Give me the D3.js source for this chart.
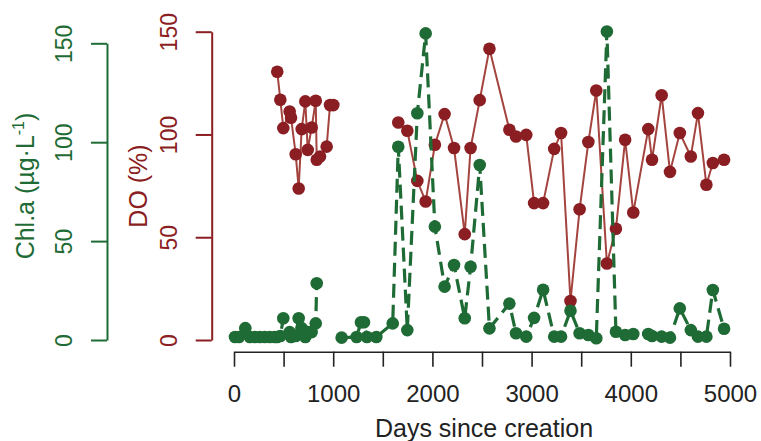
<!DOCTYPE html>
<html>
<head>
<meta charset="utf-8">
<script src="https://cdn.jsdelivr.net/npm/d3@7"></script>
<style>
  html, body { margin: 0; padding: 0; background: #fff; }
  svg { display: block; font-family: "Liberation Sans", Arial, Helvetica, sans-serif; }
</style>
</head>
<body>
<svg id="chart" width="761" height="441"></svg>
<script>
// Sampling dates (days since creation); null marks a missing measurement
const days = [
  10, 50, 114, 160, 210, 260, 310, 360, 410,
  436, 467, 497, 561, 575, 622, 652, 682, 719, 743, 783, 824, 834, 867, 934, 968, 1001,
  1085, 1236, 1280, 1310, 1340, 1435, 1600,
  1656, 1747, 1848, 1932, 2025, 2123, 2218, 2326, 2385, 2477, 2575, 2776, 2843, 2946,
  3025, 3116, 3228, 3297, 3392, 3484, 3572, 3652, 3759, 3850, 3943, 4025, 4176, 4214,
  4311, 4395, 4494, 4605, 4677, 4762, 4827, 4940
];

// Chlorophyll a (µg/L)
const chl = [
  1.5, 1.5, 6, 1.5, 1.5, 1.5, 1.5, 1.5, 1.5,
  1.5, 2, 11, 4, 1.5, 2, 11, 6, 1.5, 4, 4, 8.4, 28.7, null, null, null, null,
  1.2, 1.5, 9, 9, 1.5, 1.5, 8.4,
  97.7, 5, 114.6, 155, 57.3, 27, 37.9, 11, 37, 88.5, 5.9, 18.4, 3.4, 1.7,
  11.2, 25.4, 1.7, 1.7, 14.8, 3.4, 2.5, 0.9, 156, 4.2, 2.5, 3, 3, 2,
  1.7, 1.2, 16, 5, 1.7, 1.7, 25.3, 5.7
];

// Dissolved oxygen saturation (%)
const dox = [
  null, null, null, null, null, null, null, null, null,
  130.5, 116.9, 103.1, 111.2, 108.1, 90.4, 73.7, 102.6, 116.1, 92.5, 103.4, 116.4, 87.7, 89.3, 94.1, 114.3, 114.3,
  null, null, null, null, null, null, null,
  105.8, 101.8, 77.4, 67.4, 95.0, 109.9, 93.4, 51.5, 93.4, 116.7, 141.7, 102.3, 99.0, 99.8,
  66.6, 66.6, 93.0, 100.7, 19.0, 63.6, 96.3, 121.4, 37.2, 54.1, 97.4, 62.0, 102.6, 87.7,
  119.1, 81.8, 100.7, 89.3, 110.4, 75.5, 86.1, 87.7
];

const xTicks = [0, 500, 1000, 1500, 2000, 2500, 3000, 3500, 4000, 4500, 5000];
const yTicks = [0, 50, 100, 150];

const GREEN = "#1f6b35";
const RED = "#8b1e22";
const RED_LINE = "#a4443f";
const INK = "#222";

const svg = d3.select("#chart");

const x = d3.scaleLinear().domain([0, 5000]).range([234, 730]);
const yChl = d3.scaleLinear().domain([0, 150]).range([340, 43.3]);
const yDo = d3.scaleLinear().domain([0, 150]).range([340, 31.7]);

const rows = days.map((d, i) => ({ day: d, chl: chl[i], dox: dox[i] }));

// ---- x axis ----
const xAxis = svg.append("g")
  .attr("transform", "translate(0,351.7)")
  .call(d3.axisBottom(x)
    .tickValues(xTicks)
    .tickFormat(d => d % 1000 === 0 ? d : "")
    .tickSize(15)
    .tickSizeOuter(0)
    .tickPadding(18));
xAxis.select(".domain").attr("stroke", INK).attr("stroke-width", 1.6);
xAxis.selectAll(".tick line").attr("stroke", INK).attr("stroke-width", 1.6);
xAxis.selectAll(".tick text")
  .attr("fill", INK)
  .attr("font-size", 24)
  .attr("dy", "0.71em");

svg.append("text")
  .attr("x", 484).attr("y", 437)
  .attr("text-anchor", "middle")
  .attr("font-size", 25)
  .attr("fill", INK)
  .text("Days since creation");

// ---- left axes (rotated tick labels) ----
function leftAxis(scale, xPos, color, labelOffset) {
  const g = svg.append("g")
    .attr("transform", `translate(${xPos},0)`)
    .call(d3.axisLeft(scale).tickValues(yTicks).tickSize(16).tickSizeOuter(0));
  g.select(".domain").attr("stroke", color).attr("stroke-width", 2);
  g.selectAll(".tick line").attr("stroke", color).attr("stroke-width", 2);
  g.selectAll(".tick text")
    .attr("fill", color)
    .attr("font-size", 23)
    .attr("text-anchor", "middle")
    .attr("x", 0).attr("dy", 0)
    .attr("y", -labelOffset)
    .attr("transform", "rotate(-90)");
  return g;
}
leftAxis(yChl, 107, GREEN, 35.5);
leftAxis(yDo, 211.7, RED, 34.7);

// axis titles
const chlTitle = svg.append("text")
  .attr("transform", "translate(33.5,186) rotate(-90)")
  .attr("text-anchor", "middle")
  .attr("font-size", 25)
  .attr("fill", GREEN);
chlTitle.append("tspan").text("Chl.a (µg·L");
chlTitle.append("tspan").attr("font-size", 16).attr("dy", -10).text("-1");
chlTitle.append("tspan").attr("dy", 10).text(")");

svg.append("text")
  .attr("transform", "translate(146.7,186) rotate(-90)")
  .attr("text-anchor", "middle")
  .attr("font-size", 25)
  .attr("fill", RED)
  .text("DO (%)");

// ---- dissolved oxygen series ----
const doLine = d3.line()
  .defined(d => d.dox != null)
  .x(d => x(d.day))
  .y(d => yDo(d.dox));

svg.append("path")
  .datum(rows)
  .attr("d", doLine)
  .attr("fill", "none")
  .attr("stroke", RED_LINE)
  .attr("stroke-width", 2)
  .attr("stroke-linejoin", "round");

svg.append("g").selectAll("circle")
  .data(rows.filter(d => d.dox != null))
  .join("circle")
  .attr("cx", d => x(d.day))
  .attr("cy", d => yDo(d.dox))
  .attr("r", 6.3)
  .attr("fill", RED);

// ---- chlorophyll series ----
const chlLine = d3.line()
  .defined(d => d.chl != null)
  .x(d => x(d.day))
  .y(d => yChl(d.chl));

svg.append("path")
  .datum(rows)
  .attr("d", chlLine)
  .attr("fill", "none")
  .attr("stroke", GREEN)
  .attr("stroke-width", 3.2)
  .attr("stroke-dasharray", "14,7");

svg.append("g").selectAll("circle")
  .data(rows.filter(d => d.chl != null))
  .join("circle")
  .attr("cx", d => x(d.day))
  .attr("cy", d => yChl(d.chl))
  .attr("r", 6.3)
  .attr("fill", GREEN);
</script>
</body>
</html>
